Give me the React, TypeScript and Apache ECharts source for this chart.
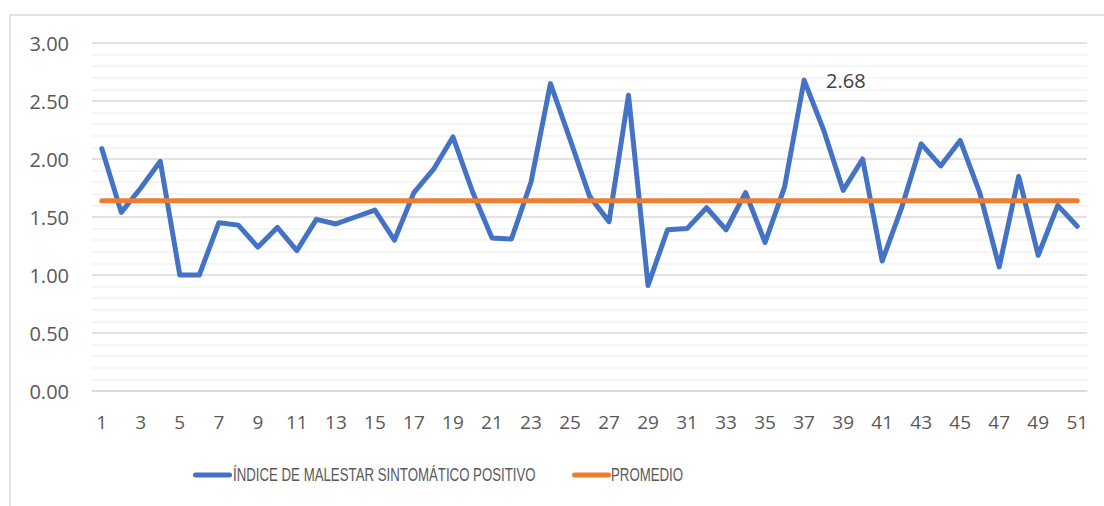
import React, { useEffect, useRef } from "react";
import * as echarts from "echarts";

const categories: string[] = Array.from({ length: 51 }, (_, i) => String(i + 1));

const indiceValues: number[] = [
  2.09, 1.54, 1.75, 1.98, 1.0, 1.0, 1.45, 1.43, 1.24, 1.41,
  1.21, 1.48, 1.44, 1.5, 1.56, 1.3, 1.71, 1.91, 2.19, 1.72,
  1.32, 1.31, 1.8, 2.65, 2.17, 1.68, 1.46, 2.55, 0.91, 1.39,
  1.4, 1.58, 1.39, 1.71, 1.28, 1.76, 2.68, 2.25, 1.73, 2.0,
  1.12, 1.58, 2.13, 1.94, 2.16, 1.71, 1.07, 1.85, 1.17, 1.6,
  1.42,
];

const promedioValue = 1.64;
const promedioValues: number[] = categories.map(() => promedioValue);

const labeledIndex = 36; // point 37 shows its value

const seriesNames = ["ÍNDICE DE MALESTAR SINTOMÁTICO POSITIVO", "PROMEDIO"];
const seriesColors = ["#4472C4", "#ED7D31"];

export default function App() {
  const ref = useRef<HTMLDivElement>(null);

  useEffect(() => {
    if (!ref.current) return;
    const chart = echarts.init(ref.current, undefined, { renderer: "svg" });
    const digitFont = "'Open Sans', 'Liberation Sans', sans-serif";
    const legendFont = "18px 'Liberation Sans', sans-serif";
    const legendScale = 0.736;

    const legendItem = (name: string, color: string, x: number, textX: number) => [
      {
        type: "rect",
        shape: { x, y: 472.5, width: 39, height: 5, r: 2.5 },
        style: { fill: color },
        silent: true,
      },
      {
        type: "text",
        x: textX,
        y: 475,
        scaleX: legendScale,
        style: {
          text: name,
          font: legendFont,
          fill: "#595959",
          align: "left",
          verticalAlign: "middle",
        },
        silent: true,
      },
    ];

    chart.setOption({
      animation: false,
      backgroundColor: "#ffffff",
      graphic: [
        {
          type: "rect",
          shape: { x: 10, y: 15, width: 1110, height: 510 },
          style: { fill: "none", stroke: "#d9d9d9", lineWidth: 1.5 },
          silent: true,
          z: -10,
        },
        ...legendItem(seriesNames[0], seriesColors[0], 193, 233),
        ...legendItem(seriesNames[1], seriesColors[1], 572, 611),
      ],
      grid: { left: 92, right: 17, top: 43, bottom: 115 },
      xAxis: {
        type: "category",
        data: categories,
        boundaryGap: true,
        axisLine: { show: true, lineStyle: { color: "#d9d9d9", width: 1.5 } },
        axisTick: { show: false },
        axisLabel: {
          interval: 1,
          fontFamily: digitFont,
          fontSize: 19,
          color: "#595959",
          margin: 21,
        },
      },
      yAxis: {
        type: "value",
        min: 0,
        max: 3,
        interval: 0.5,
        axisLine: { show: false },
        axisTick: { show: false },
        axisLabel: {
          formatter: (v: number) => v.toFixed(2),
          fontFamily: digitFont,
          fontSize: 20,
          color: "#595959",
          margin: 23,
        },
        splitLine: { show: true, lineStyle: { color: "#d9d9d9", width: 1.5 } },
        minorTick: { show: false, splitNumber: 5 },
        minorSplitLine: { show: true, lineStyle: { color: "#f2f2f2", width: 1.5 } },
      },
      series: [
        {
          name: seriesNames[0],
          type: "line",
          data: indiceValues,
          symbol: "none",
          lineStyle: { color: seriesColors[0], width: 5, cap: "round", join: "round" },
          itemStyle: { color: seriesColors[0] },
          markPoint: {
            symbol: "circle",
            symbolSize: 0,
            silent: true,
            data: [
              {
                coord: [categories[labeledIndex], indiceValues[labeledIndex]],
                value: indiceValues[labeledIndex],
              },
            ],
            label: {
              show: true,
              position: "right",
              distance: 22,
              formatter: (p: any) => Number(p.value).toFixed(2),
              fontFamily: digitFont,
              fontSize: 20,
              color: "#404040",
            },
          },
          z: 3,
        },
        {
          name: seriesNames[1],
          type: "line",
          data: promedioValues,
          symbol: "none",
          lineStyle: { color: seriesColors[1], width: 5, cap: "round" },
          itemStyle: { color: seriesColors[1] },
          z: 4,
        },
      ],
    });
    return () => chart.dispose();
  }, []);

  return (
    <div
      ref={ref}
      style={{ position: "absolute", left: 0, top: 0, width: 1104, height: 506 }}
    />
  );
}
